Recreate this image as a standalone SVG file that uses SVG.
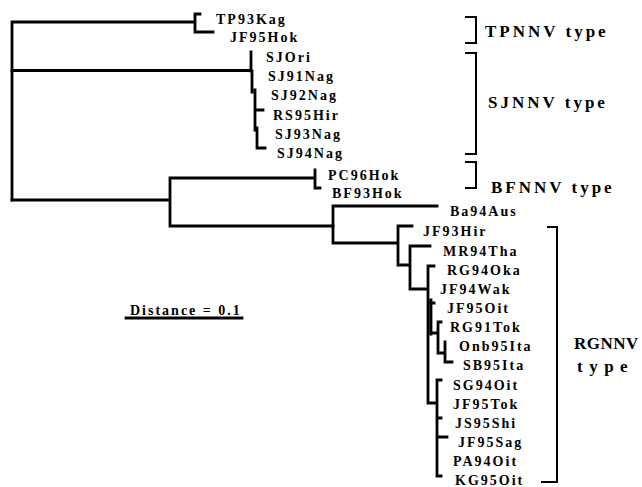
<svg xmlns="http://www.w3.org/2000/svg" width="642" height="487" viewBox="0 0 642 487">
<style>
.e{fill:none;stroke:#000;stroke-width:2.8;stroke-linecap:square}
.t{font-family:"Liberation Serif",serif;font-weight:bold;font-size:14px;letter-spacing:2px;fill:#000}
.g{font-family:"Liberation Serif",serif;font-weight:bold;font-size:17px;fill:#000}
.b{fill:none;stroke:#000;stroke-width:2}
</style>
<rect width="642" height="487" fill="#fff"/>
<g id="connectors">
<path class="e" d="M12,22 V200 M12,22 H195 M195,14 V32 M195,14 H200 M195,32 H213"/>
<path class="e" d="M12,70.5 H251 M251,52 V71 M252,71 V92 M255,90 V130 M255,110 H263 M257,128 V148 H265"/>
<path class="e" d="M12,200 H170 M170,178 V226 M170,178 H315 M315,170 V188 H320 M170,226 H333"/>
<path class="e" d="M333,206 V243 M333,206 H437 M333,243 H398 M398,226 V265 M398,226 H412 M398,265 H410 M410,246 V289 M410,246 H430 M410,289 H427"/>
<path class="e" d="M428,266 V403 M428,266 H434 M428,303 H434 M431,300 V334 M431,333 H438 M438,322 V353 M438,322 H441 M438,353 H445 M445,342 V362 H452 M428,403 H437 M437,380 V476 M437,380 H441 M437,418 H441 M437,437 H447 M437,476 H441"/>
</g>
<g id="leaves">
<text class="t" x="216" y="24">TP93Kag</text>
<text class="t" x="230" y="42">JF95Hok</text>
<text class="t" x="266" y="62">SJOri</text>
<text class="t" x="268" y="81">SJ91Nag</text>
<text class="t" x="271" y="100">SJ92Nag</text>
<text class="t" x="273" y="120">RS95Hir</text>
<text class="t" x="275" y="139">SJ93Nag</text>
<text class="t" x="277" y="158">SJ94Nag</text>
<text class="t" x="328" y="180">PC96Hok</text>
<text class="t" x="332" y="198">BF93Hok</text>
<text class="t" x="450" y="216">Ba94Aus</text>
<text class="t" x="423" y="236">JF93Hir</text>
<text class="t" x="443" y="256">MR94Tha</text>
<text class="t" x="447" y="275">RG94Oka</text>
<text class="t" x="440" y="294">JF94Wak</text>
<text class="t" x="447" y="313">JF95Oit</text>
<text class="t" x="450" y="332">RG91Tok</text>
<text class="t" x="459" y="351">Onb95Ita</text>
<text class="t" x="463" y="370">SB95Ita</text>
<text class="t" x="453" y="390">SG94Oit</text>
<text class="t" x="453" y="409">JF95Tok</text>
<text class="t" x="455" y="428">JS95Shi</text>
<text class="t" x="458" y="447">JF95Sag</text>
<text class="t" x="453" y="466">PA94Oit</text>
<text class="t" x="455" y="485">KG95Oit</text>
</g>
<g id="scale">
<text class="t" x="130" y="315">Distance = 0.1</text>
<path class="e" d="M126,318 H242"/>
</g>
<g id="group-TPNNV">
<path class="b" d="M465,17 H476 V43 H465"/>
<text class="g" x="485" y="37" style="letter-spacing:3px">TPNNV type</text>
</g>
<g id="group-SJNNV">
<path class="b" d="M465,53 H476 V154 H465"/>
<text class="g" x="488" y="108" style="letter-spacing:3px">SJNNV type</text>
</g>
<g id="group-BFNNV">
<path class="b" d="M465,162 H476 V188 H465"/>
<text class="g" x="491" y="193" style="letter-spacing:3px">BFNNV type</text>
</g>
<g id="group-RGNNV">
<path class="b" d="M547,227 H557 V482 H541"/>
<text class="g" x="574" y="349" style="letter-spacing:0.5px">RGNNV</text>
<text class="g" x="577" y="372" style="letter-spacing:6.5px">type</text>
</g>
</svg>
